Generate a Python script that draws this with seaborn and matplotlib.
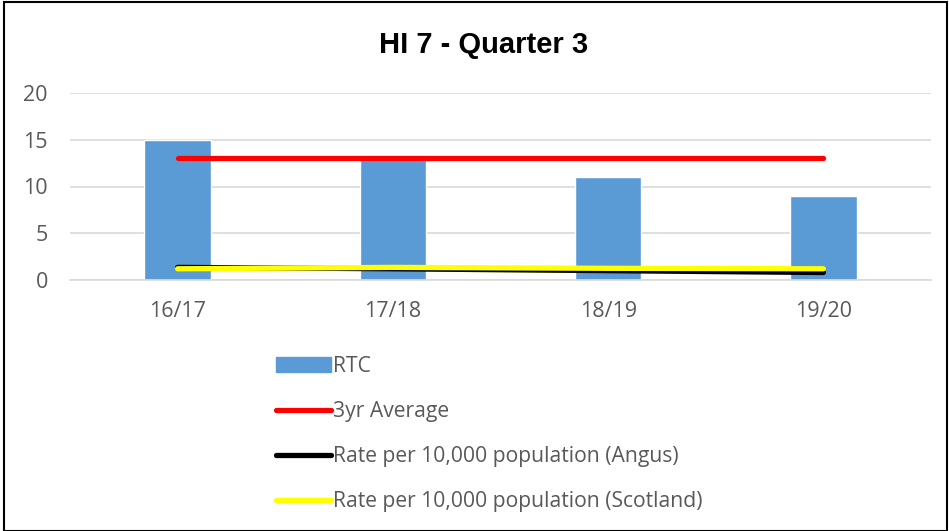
import matplotlib.pyplot as plt
import matplotlib.patches as mpatches
import seaborn as sns
import numpy as np
import pandas as pd

years = ["16/17", "17/18", "18/19", "19/20"]
rtc = [15, 13, 11, 9]
avg_3yr = [13, 13, 13, 13]
rate_angus = [1.35, 1.2, 1.0, 0.8]
rate_scotland = [1.2, 1.35, 1.25, 1.2]

sns.set_theme(style="white")
plt.rcParams["font.family"] = ["Open Sans", "DejaVu Sans"]

grey = "#595959"
fig = plt.figure(figsize=(9.49, 5.31), dpi=100)
ax = fig.add_axes([70 / 949, 1 - 280 / 531, 861 / 949, 187 / 531])

df = pd.DataFrame({"year": years, "RTC": rtc})
sns.barplot(data=df, x="year", y="RTC", color="#5b9bd5", saturation=1,
            width=0.31, ax=ax, zorder=2)

pos = np.arange(len(years))
line_kw = dict(linewidth=3.8, solid_capstyle="round", ax=ax)
sns.lineplot(x=pos, y=avg_3yr, color="#ff0000", zorder=3, **line_kw)
sns.lineplot(x=pos, y=rate_angus, color="black", zorder=3, **line_kw)
sns.lineplot(x=pos, y=rate_scotland, color="#ffff00", zorder=4, **line_kw)

ax.set_xlim(-0.5, len(years) - 0.5)
ax.set_ylim(0, 20)
ax.set_yticks([0, 5, 10, 15, 20])
ax.yaxis.grid(True, color="#d9d9d9", linewidth=1.2, zorder=0)
ax.set_axisbelow(True)
ax.set_xlabel("")
ax.set_ylabel("")
for s in ["top", "right", "left"]:
    ax.spines[s].set_visible(False)
ax.spines["bottom"].set_color("#d9d9d9")
ax.spines["bottom"].set_linewidth(1.2)
ax.tick_params(axis="both", length=0, labelsize=15.5, colors=grey)
ax.tick_params(axis="y", pad=16)
ax.set_xticks(pos)
ax.set_xticklabels(years)
ax.set_xticks(np.arange(len(years) + 1) - 0.5, minor=True)
ax.tick_params(axis="x", which="minor", length=7, color="#d9d9d9", width=1.2)
ax.tick_params(axis="x", which="major", pad=15)

fig.text(484 / 949, 1 - 45 / 531, "HI 7 - Quarter 3", ha="center", va="center",
         fontsize=21, fontweight="bold", color="black", family="Liberation Sans")

handles = [
    mpatches.Patch(color="#5b9bd5", label="RTC"),
    plt.Line2D([], [], color="#ff0000", linewidth=3.8, solid_capstyle="round", label="3yr Average"),
    plt.Line2D([], [], color="black", linewidth=3.8, solid_capstyle="round", label="Rate per 10,000 population (Angus)"),
    plt.Line2D([], [], color="#ffff00", linewidth=3.8, solid_capstyle="round", label="Rate per 10,000 population (Scotland)"),
]
leg = fig.legend(handles=handles, loc="upper left", bbox_to_anchor=(257 / 949, 1 - 337 / 531),
                 frameon=False, fontsize=15.2, handlelength=2.6, handletextpad=0.1,
                 labelspacing=1.14, labelcolor=grey)

fig.patches.append(mpatches.Rectangle((0.004, 0.0), 0.994, 0.996, transform=fig.transFigure,
                                      fill=False, edgecolor="black", linewidth=1.5))

fig.savefig("out.png", dpi=100)
